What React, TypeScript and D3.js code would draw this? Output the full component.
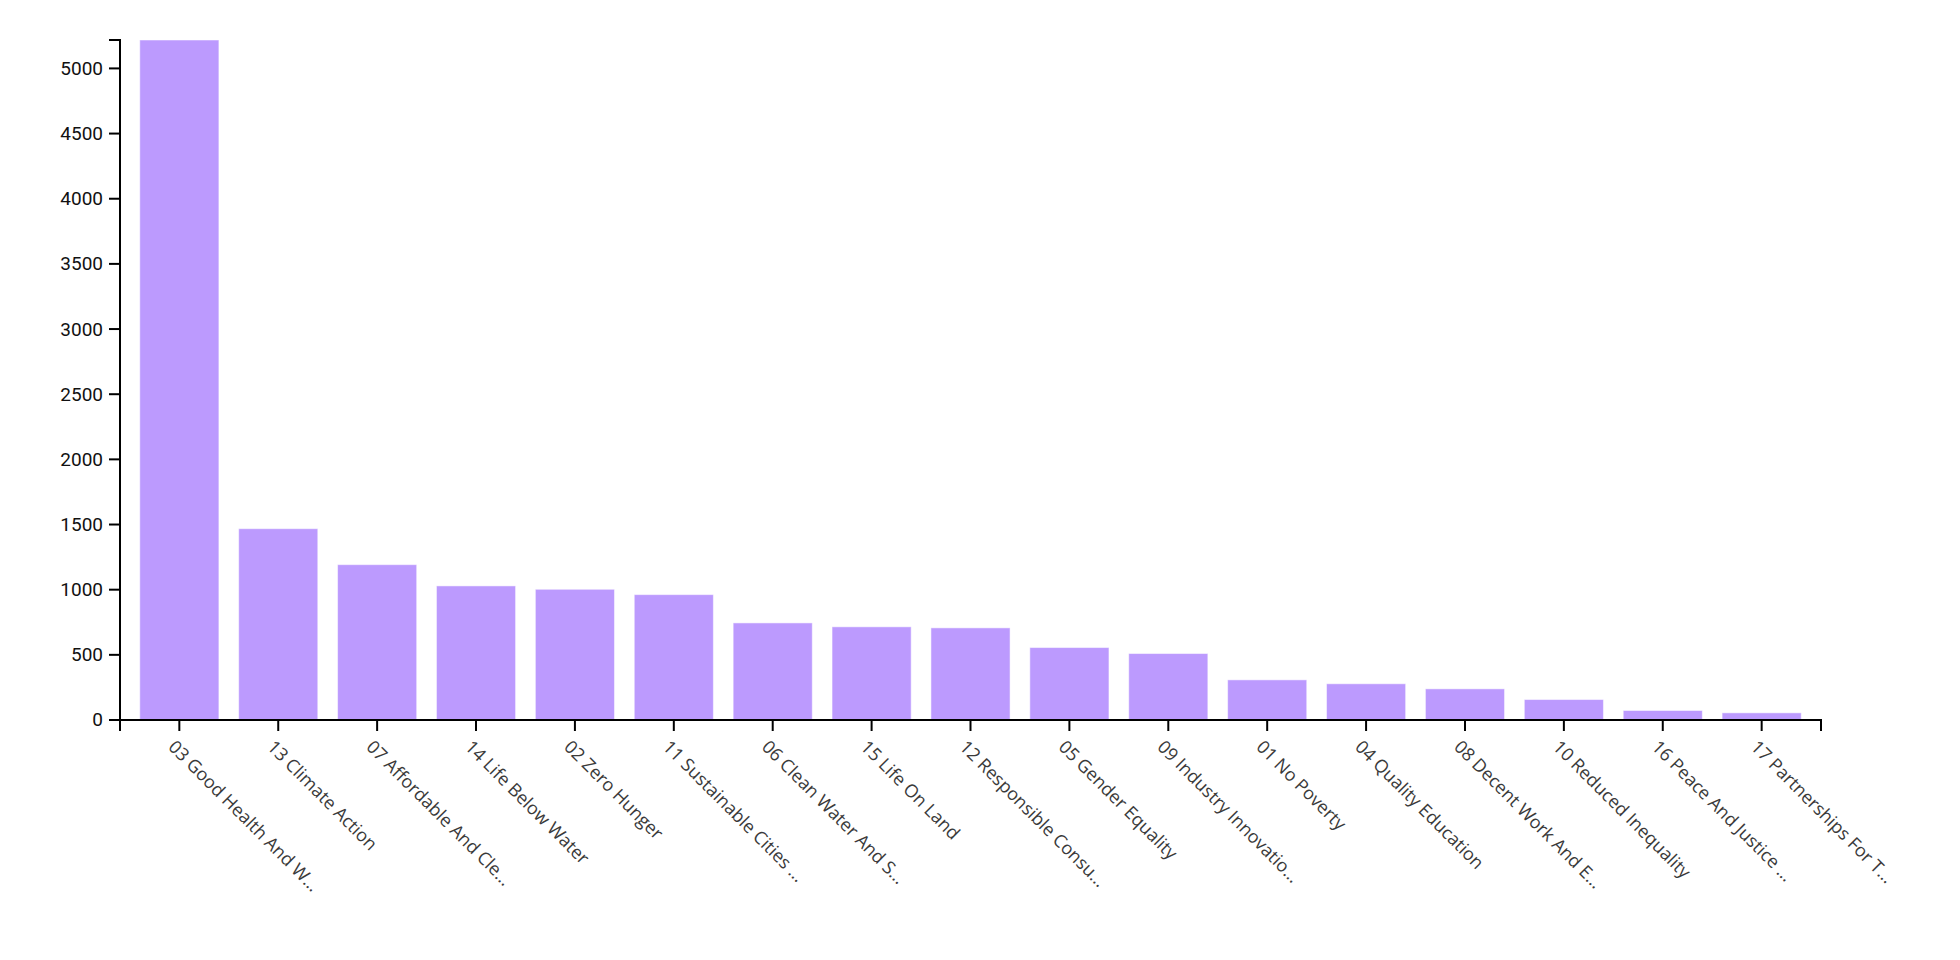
import * as d3 from 'd3'

const categories = [
  '03 Good Health And W…',
  '13 Climate Action',
  '07 Affordable And Cle…',
  '14 Life Below Water',
  '02 Zero Hunger',
  '11 Sustainable Cities …',
  '06 Clean Water And S…',
  '15 Life On Land',
  '12 Responsible Consu…',
  '05 Gender Equality',
  '09 Industry Innovatio…',
  '01 No Poverty',
  '04 Quality Education',
  '08 Decent Work And E…',
  '10 Reduced Inequality',
  '16 Peace And Justice …',
  '17 Partnerships For T…',
]

const counts = [5218, 1468, 1192, 1029, 1003, 962, 745, 715, 707, 556, 510, 308, 278, 239, 157, 73, 55]

const width = 1960
const height = 960

export default function App() {
  const margin = { top: 32, right: 147, bottom: 248, left: 112 }
  const innerW = width - margin.left - margin.right
  const innerH = height - margin.top - margin.bottom
  const tick = 11

  const x = d3.scaleBand<string>().domain(categories).range([0, innerW]).padding(0.2)
  const y = d3
    .scaleLinear()
    .domain([0, d3.max(counts) ?? 0])
    .range([innerH, 0])

  const bw = x.bandwidth()

  return (
    <svg width={width} height={height} style={{ display: 'block' }}>
      <g transform={`translate(${margin.left},${margin.top})`}>
        {categories.map((c, i) => (
          <rect
            key={c}
            x={x(c)}
            y={y(counts[i])}
            width={bw}
            height={innerH - y(counts[i])}
            fill="#bc9afe"
            stroke="#fff"
            strokeOpacity={0.5}
            strokeWidth={1}
          />
        ))}

        {/* y axis */}
        <g fontFamily="Roboto" fontSize={19} fill="#111">
          <path d={`M${-tick},0H0V${innerH}H${-tick}`} fill="none" stroke="#000" strokeWidth={2} />
          {y.ticks(10).map((t) => (
            <g key={t} transform={`translate(0,${y(t)})`}>
              <line x1={-tick} x2={0} stroke="#000" strokeWidth={2} />
              <text x={-tick - 6} dy="0.34em" textAnchor="end">
                {t}
              </text>
            </g>
          ))}
        </g>

        {/* x axis */}
        <g transform={`translate(0,${innerH})`} fontFamily="'Open Sans'" fontSize={18} fill="#3a3a3a">
          <path d={`M0,${tick}V0H${innerW}V${tick}`} fill="none" stroke="#000" strokeWidth={2} />
          {categories.map((c) => {
            const cx = (x(c) ?? 0) + bw / 2
            return (
              <g key={c} transform={`translate(${cx},0)`}>
                <line y2={tick} stroke="#000" strokeWidth={2} />
                <text transform="translate(-12,28) rotate(45)" textAnchor="start">
                  {c}
                </text>
              </g>
            )
          })}
        </g>
      </g>
    </svg>
  )
}
